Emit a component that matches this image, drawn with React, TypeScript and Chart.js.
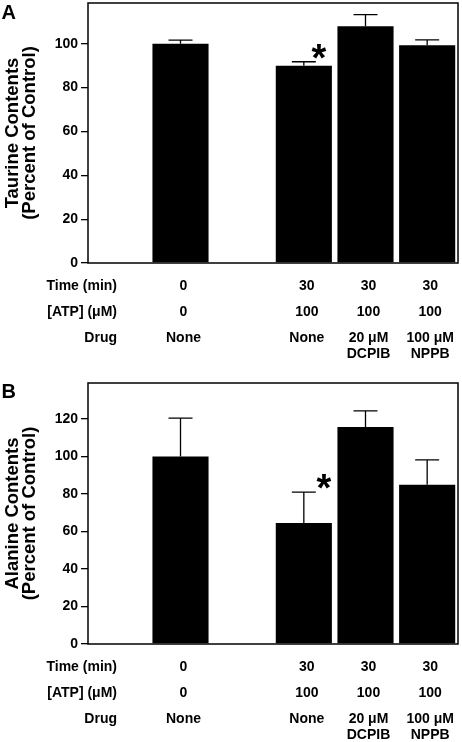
import React, { useEffect, useRef } from 'react';
import { Chart, registerables } from 'chart.js';

Chart.register(...registerables);

// ---------- data ----------
const categories = ['', 'Control', '', 'ATP', 'ATP + DCPIB', 'ATP + NPPB'];
const timeRow = ['', '0', '', '30', '30', '30'];
const atpRow = ['', '0', '', '100', '100', '100'];
const drugRow = [[''], ['None'], [''], ['None'], ['20 μM', 'DCPIB'], ['100 μM', 'NPPB']];
const rowLabels = ['Time (min)', '[ATP] (μM)', 'Drug'];

const taurineValues = [null, 100, null, 90, 108, 99.3];
const taurineErrors = [null, 1.7, null, 1.8, 5.3, 2.5];
const alanineValues = [null, 100, null, 64.6, 115.7, 85];
const alanineErrors = [null, 20.5, null, 16.4, 8.6, 13.2];

const significantIndex = 3;
const taurineTitle = ['Taurine Contents', '(Percent of Control)'];
const alanineTitle = ['Alanine Contents', '(Percent of Control)'];

const FONT = '"Liberation Sans", Arial, Helvetica, sans-serif';

type PanelProps = {
  letter: string;
  values: (number | null)[];
  errors: (number | null)[];
  title: string[];
  yMax: number;
  padTop: number;
  padBottom: number;
  letterY: number;
  starDx: number;
};

function Panel(p: PanelProps) {
  const ref = useRef<HTMLCanvasElement | null>(null);
  useEffect(() => {
    if (!ref.current) return;
    const decor = {
      id: 'decor',
      afterDatasetsDraw(chart: any) {
        const ctx = chart.ctx as CanvasRenderingContext2D;
        const { left, right, top, bottom } = chart.chartArea;
        const xs = chart.scales.x;
        const ys = chart.scales.y;
        ctx.save();
        ctx.strokeStyle = '#000';
        ctx.fillStyle = '#000';
        // error bars
        ctx.lineWidth = 1.3;
        p.values.forEach((v, i) => {
          if (v == null) return;
          const e = p.errors[i] || 0;
          const x = xs.getPixelForValue(i);
          const y0 = ys.getPixelForValue(v);
          const y1 = ys.getPixelForValue(v + e);
          ctx.beginPath();
          ctx.moveTo(x, y0);
          ctx.lineTo(x, y1);
          ctx.moveTo(x - 12, y1);
          ctx.lineTo(x + 12, y1);
          ctx.stroke();
        });
        // frame
        ctx.lineWidth = 1.5;
        ctx.strokeRect(left, top, right - left, bottom - top);
        // asterisk
        const sv = p.values[significantIndex] as number;
        const se = p.errors[significantIndex] as number;
        const sy = ys.getPixelForValue(sv + se) - 12;
        const sx = xs.getPixelForValue(significantIndex) + p.starDx;
        const starSize = 38;
        ctx.font = `bold ${starSize}px ${FONT}`;
        ctx.textAlign = 'center';
        ctx.textBaseline = 'alphabetic';
        ctx.fillText('*', sx, sy + 0.555 * starSize);
        // panel letter
        ctx.font = `bold 20px ${FONT}`;
        ctx.textAlign = 'left';
        ctx.fillText(p.letter, 1.5, p.letterY);
        // y title
        const midY = (top + bottom) / 2;
        ctx.font = `bold 18.5px ${FONT}`;
        ctx.textAlign = 'center';
        ctx.textBaseline = 'middle';
        const titleX = [12.5, 30];
        p.title.forEach((t, k) => {
          ctx.save();
          ctx.translate(titleX[k], midY);
          ctx.rotate(-Math.PI / 2);
          ctx.fillText(t, 0, 0);
          ctx.restore();
        });
        // condition table
        ctx.font = `bold 14px ${FONT}`;
        const rowY = [23, 49.5, 75.5];
        ctx.textAlign = 'right';
        rowLabels.forEach((l, k) => ctx.fillText(l, 117, bottom + rowY[k]));
        ctx.textAlign = 'center';
        categories.forEach((_, i) => {
          const x = xs.getPixelForValue(i) + 3;
          if (timeRow[i]) ctx.fillText(timeRow[i], x, bottom + rowY[0]);
          if (atpRow[i]) ctx.fillText(atpRow[i], x, bottom + rowY[1]);
          drugRow[i].forEach((line, j) => {
            if (line) ctx.fillText(line, x, bottom + rowY[2] + j * 15.5);
          });
        });
        ctx.restore();
      },
    };
    const chart = new Chart(ref.current, {
      type: 'bar',
      data: {
        labels: categories,
        datasets: [
          {
            data: p.values as any,
            backgroundColor: '#000',
            borderWidth: 0,
            barPercentage: 0.91,
            categoryPercentage: 1,
          },
        ],
      },
      options: {
        responsive: false,
        animation: false,
        devicePixelRatio: 1,
        layout: { padding: { top: p.padTop, right: 4, bottom: p.padBottom, left: 0 } },
        plugins: { legend: { display: false }, tooltip: { enabled: false } },
        scales: {
          x: { display: false, offset: true },
          y: {
            min: 0,
            max: p.yMax,
            afterFit: (s: any) => {
              s.width = 88;
              s.paddingTop = 0;
              s.paddingBottom = 0;
            },
            grid: {
              display: true,
              drawOnChartArea: false,
              drawTicks: true,
              tickLength: 7,
              color: '#000',
              lineWidth: 1.3,
            },
            border: { display: false },
            ticks: {
              stepSize: 20,
              includeBounds: false,
              padding: 3,
              color: '#000',
              font: { family: FONT, size: 14, weight: 'bold' },
            },
          },
        },
      },
      plugins: [decor],
    });
    return () => chart.destroy();
  }, []);
  return <canvas ref={ref} width={462} height={371} style={{ display: 'block' }} />;
}

export default function App() {
  return (
    <div
      style={{
        position: 'absolute',
        left: 0,
        top: 0,
        width: 462,
        height: 742,
        background: '#fff',
        overflow: 'hidden',
      }}
    >
      <Panel
        letter="A"
        values={taurineValues}
        errors={taurineErrors}
        title={taurineTitle}
        yMax={118.6}
        padTop={3}
        padBottom={108}
        letterY={18.5}
        starDx={15}
      />
      <Panel
        letter="B"
        values={alanineValues}
        errors={alanineErrors}
        title={alanineTitle}
        yMax={139.2}
        padTop={12}
        padBottom={98}
        letterY={27.3}
        starDx={20}
      />
    </div>
  );
}
